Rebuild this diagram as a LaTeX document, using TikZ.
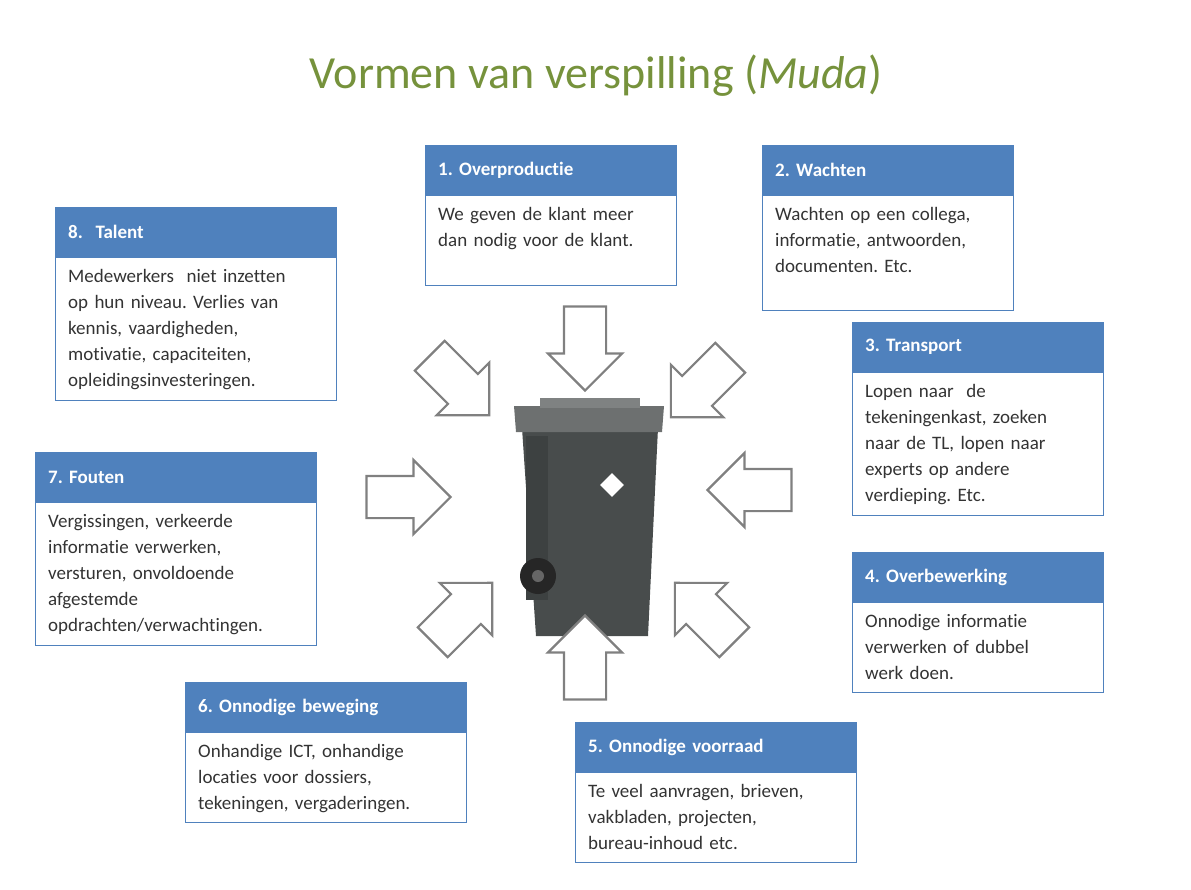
\documentclass[tikz,border=0pt]{standalone}
\usepackage{fontspec}
\setmainfont{Carlito}[Ligatures=NoCommon]
\usetikzlibrary{positioning,shapes.arrows,shapes.geometric}
\definecolor{titleGreen}{RGB}{118,146,60}
\definecolor{headBlue}{RGB}{79,129,189}
\definecolor{binGrey}{RGB}{72,76,76}
\definecolor{arrowGrey}{RGB}{128,128,128}
\frenchspacing
\newcommand{\wastebox}[7]{%
  \node[head,text width=#4-26pt] (#1h) at (#2,#3) {#5};
  \node[body,text width=#4-26pt] (#1b) at (#1h.south west) {#6};
  \draw[draw=headBlue,line width=0.9pt] (#1h.south west) rectangle ++(#4,#7);
}
\begin{document}
\begin{tikzpicture}[x=1pt,y=-1pt,
    head/.style={anchor=north west,fill=headBlue,draw=headBlue,text=white,font=\fontsize{19}{22}\selectfont\bfseries,
                 minimum height=50pt,inner xsep=13pt,align=left},
    body/.style={font=\fontsize{19}{26}\selectfont,text=black!80,
                 align=left,inner xsep=13pt,inner ysep=12pt,anchor=north west},
    hollow/.style={single arrow,draw=arrowGrey,line width=2.2pt,fill=white,minimum height=84pt,
                   inner xsep=0pt,inner ysep=20pt,single arrow head extend=16pt,single arrow tip angle=90}
  ]
  \useasboundingbox (0,0) rectangle (1191,889);
  % title
  \node[text=titleGreen,font=\fontsize{46}{52}\selectfont] (title) at (596,76) {Vormen van verspilling (\textit{Muda})};
  % boxes
  \wastebox{over}{425}{145}{251pt}{1. Overproductie}{We geven de klant meer\\dan nodig voor de klant.}{90}
  \wastebox{wacht}{762}{145}{251pt}{2. Wachten}{Wachten op een collega,\\informatie, antwoorden,\\documenten. Etc.}{115}
  \wastebox{talent}{55}{207}{281pt}{8.\ \ Talent}{Medewerkers\ \ niet inzetten\\op hun niveau. Verlies van\\kennis, vaardigheden,\\motivatie, capaciteiten,\\opleidingsinvesteringen.}{143}
  \wastebox{trans}{852}{322}{251pt}{3. Transport}{Lopen naar\ \ de\\tekeningenkast, zoeken\\naar de TL, lopen naar\\experts op andere\\verdieping. Etc.}{143}
  \wastebox{fout}{35}{452}{281pt}{7. Fouten}{Vergissingen, verkeerde\\informatie verwerken,\\versturen, onvoldoende\\afgestemde\\opdrachten/verwachtingen.}{143}
  \wastebox{bewerk}{852}{552}{251pt}{4. Overbewerking}{Onnodige informatie\\verwerken of dubbel\\werk doen.}{90}
  \wastebox{beweg}{185}{682}{281pt}{6. Onnodige beweging}{Onhandige ICT, onhandige\\locaties voor dossiers,\\tekeningen, vergaderingen.}{90}
  \wastebox{voorraad}{575}{722}{281pt}{5. Onnodige voorraad}{Te veel aanvragen, brieven,\\vakbladen, projecten,\\bureau-inhoud etc.}{90}
  % waste bin
  \fill[binGrey] (522,428) -- (658,428) -- (648,636) -- (536,636) -- cycle;
  \fill[binGrey!85!black] (526,436) rectangle (548,600);
  \fill[binGrey!80] (514,406) -- (664,406) -- (662,432) -- (516,432) -- cycle;
  \fill[binGrey!70] (540,398) rectangle (640,408);
  \fill[black!85] (538,576) circle (18pt);
  \fill[black!60] (538,576) circle (6pt);
  \node[diamond,fill=white,minimum size=24pt,inner sep=0pt] (label) at (612,485) {};
  % arrows
  \node[hollow,rotate=-90] (aN) at (585,338) {};
  \node[hollow,rotate=90] (aS) at (585,668) {};
  \node[hollow] (aW) at (398,497) {};
  \node[hollow,rotate=180] (aE) at (760,490) {};
  \node[hollow,rotate=-45] (aNW) at (452,378) {};
  \node[hollow,rotate=-135] (aNE) at (708,380) {};
  \node[hollow,rotate=45] (aSW) at (455,620) {};
  \node[hollow,rotate=135] (aSE) at (712,620) {};
\end{tikzpicture}
\end{document}
